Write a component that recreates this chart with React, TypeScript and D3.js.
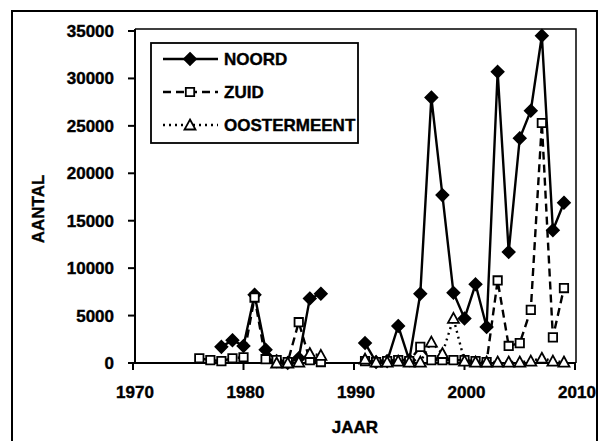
import React from "react";
import * as d3 from "d3";

const years: number[] = [
  1976, 1977, 1978, 1979, 1980, 1981, 1982, 1983, 1984, 1985, 1986, 1987, 1988, 1989, 1990,
  1991, 1992, 1993, 1994, 1995, 1996, 1997, 1998, 1999, 2000, 2001, 2002, 2003, 2004, 2005,
  2006, 2007, 2008, 2009,
];
const noord: (number | null)[] = [
  null, null, 1700, 2400, 1800, 7200, 1400, 200, 0, 500, 6800, 7300, null, null, null,
  2100, 100, 200, 3900, 300, 7300, 28000, 17700, 7400, 4700, 8300, 3800, 30700, 11700, 23700,
  26600, 34500, 14000, 16900,
];
const zuid: (number | null)[] = [
  500, 300, 200, 500, 600, 6900, 400, 300, 100, 4300, 300, 100, null, null, null,
  200, 100, 200, 300, 200, 1700, 300, 300, 300, 300, 200, 100, 8700, 1800, 2100,
  5600, 25300, 2700, 7900,
];
const oostermeent: (number | null)[] = [
  null, null, null, null, null, null, null, 0, 0, 100, 1000, 800, null, null, null,
  400, 100, 100, 200, 100, 100, 2200, 1000, 4700, 200, 100, 100, 100, 100, 100,
  200, 500, 200, 100,
];
const seriesNames: string[] = ["NOORD", "ZUID", "OOSTERMEENT"];
const xTicks: number[] = [1970, 1980, 1990, 2000, 2010];
const yTicks: number[] = [0, 5000, 10000, 15000, 20000, 25000, 30000, 35000];
const xTitle = "JAAR";
const yTitle = "AANTAL";

const FONT = "'Liberation Sans', Arial, sans-serif";

const diamond = "M0,-6L6,0L0,6L-6,0Z";
const square = "M-4.2,-4.2L4.2,-4.2L4.2,4.2L-4.2,4.2Z";
const triangle = "M0,-5.5L5.5,4.5L-5.5,4.5Z";

const textStyle = { stroke: "#000", strokeWidth: 0.4 };

export default function App() {
  const x = d3.scaleLinear().domain([1970, 2010]).range([133, 575]);
  const y = d3.scaleLinear().domain([0, 35000]).range([363, 31]);

  type P = { yr: number; v: number | null };
  const mk = (arr: (number | null)[]): P[] => years.map((yr, i) => ({ yr, v: arr[i] }));
  const line = d3
    .line<P>()
    .defined((d) => d.v !== null)
    .x((d) => x(d.yr))
    .y((d) => y(d.v as number));

  const series = [
    { name: seriesNames[0], data: mk(noord), dash: undefined as string | undefined, marker: diamond, fill: "#000" },
    { name: seriesNames[1], data: mk(zuid), dash: "8,5", marker: square, fill: "#fff" },
    { name: seriesNames[2], data: mk(oostermeent), dash: "2,4", marker: triangle, fill: "#fff" },
  ];

  const plotLeft = 135;
  const plotRight = 576;
  const plotTop = 29;
  const plotBottom = 363;

  return (
    <svg width={599} height={441} style={{ position: "absolute", left: 0, top: 0, background: "#fff" }}>
      <rect x={0} y={0} width={599} height={441} fill="#fff" />
      {/* outer frame */}
      <path d="M12,445L12,11L597,11L597,445" fill="none" stroke="#000" strokeWidth={2} />
      {/* plot frame */}
      <path d={`M${plotLeft},${plotTop}L${plotRight},${plotTop}L${plotRight},${plotBottom}`} fill="none" stroke="#000" strokeWidth={1.5} />
      <line x1={plotLeft} x2={plotLeft} y1={plotTop} y2={plotBottom} stroke="#000" strokeWidth={2} />
      <line x1={plotLeft} x2={plotRight} y1={plotBottom} y2={plotBottom} stroke="#000" strokeWidth={2} />

      {/* y ticks */}
      {yTicks.map((t) => (
        <g key={"y" + t}>
          <line x1={128} x2={plotLeft} y1={y(t)} y2={y(t)} stroke="#000" strokeWidth={2} />
          <text x={114} y={y(t) + 6} textAnchor="end" fontFamily={FONT} fontWeight="bold" fontSize={17} style={textStyle}>
            {t}
          </text>
        </g>
      ))}
      {/* x ticks */}
      {xTicks.map((t) => (
        <g key={"x" + t}>
          <line x1={x(t)} x2={x(t)} y1={plotBottom} y2={plotBottom + 7} stroke="#000" strokeWidth={2} />
          <text x={x(t) + 2} y={398} textAnchor="middle" fontFamily={FONT} fontWeight="bold" fontSize={17} style={textStyle}>
            {t}
          </text>
        </g>
      ))}
      <text x={355} y={433} textAnchor="middle" fontFamily={FONT} fontWeight="bold" fontSize={17} style={textStyle}>
        {xTitle}
      </text>
      <text
        transform="translate(44,209) rotate(-90)"
        textAnchor="middle"
        fontFamily={FONT}
        fontWeight="bold"
        fontSize={17}
        style={textStyle}
      >
        {yTitle}
      </text>

      {/* series */}
      {series.map((s) => (
        <g key={s.name}>
          <path d={line(s.data) || ""} fill="none" stroke="#000" strokeWidth={2.4} strokeDasharray={s.dash} />
          {s.data
            .filter((d) => d.v !== null)
            .map((d) => (
              <path
                key={d.yr}
                d={s.marker}
                transform={`translate(${x(d.yr)},${y(d.v as number)})`}
                fill={s.fill}
                stroke="#000"
                strokeWidth={1.8}
              />
            ))}
        </g>
      ))}

      {/* legend */}
      <rect x={151} y={43} width={207} height={100} fill="#fff" stroke="#000" strokeWidth={1.8} />
      {series.map((s, i) => {
        const ly = 59 + i * 33;
        return (
          <g key={"lg" + s.name}>
            <line x1={163} x2={218} y1={ly} y2={ly} stroke="#000" strokeWidth={2.4} strokeDasharray={s.dash} />
            <path d={s.marker} transform={`translate(190,${ly})`} fill={s.fill} stroke="#000" strokeWidth={1.8} />
            <text x={224} y={ly + 6} fontFamily={FONT} fontWeight="bold" fontSize={17} style={textStyle}>
              {s.name}
            </text>
          </g>
        );
      })}
    </svg>
  );
}
